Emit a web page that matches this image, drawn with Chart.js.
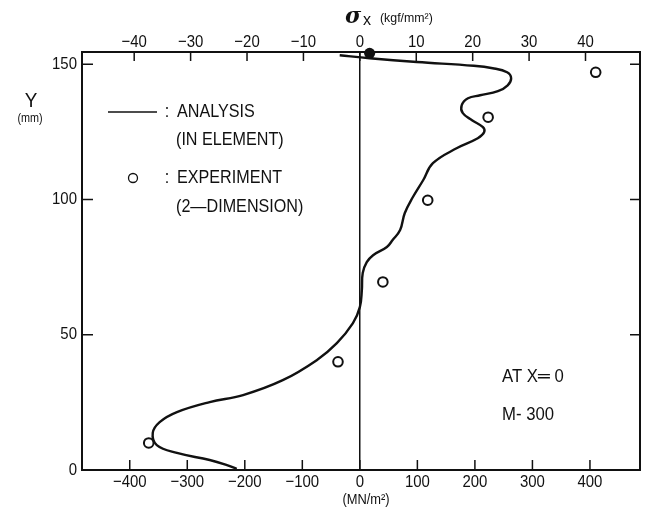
<!DOCTYPE html>
<html>
<head>
<meta charset="utf-8">
<script src="https://cdn.jsdelivr.net/npm/chart.js@4/dist/chart.umd.min.js"></script>
<style>
    body { margin: 0; background: #fff; }
</style>
</head>
<body>
<canvas id="stressChart" width="652" height="515"></canvas>
<script>
// analysis curve, read from bottom (Y = 0) to top
const analysisY = [0.4, 1.8, 3.7, 6.3, 9.2, 13.7, 17.7, 21.4, 25.1, 27.7, 33.2, 40.6, 46.9, 54.3, 60.2, 66.5, 72.8, 76.8, 79.4, 82.4, 85, 88.7, 94.9, 100.8, 107.1, 113.4, 119, 122.6, 124.8, 126.7, 129.3, 131.9, 134.8, 137.4, 138.5, 140, 142.2, 144.8, 147, 148.5, 149.4, 150.8, 152.2, 153.3];
const analysisStress = [-214, -231, -261, -318, -353, -360, -348, -318, -261, -203, -134, -75, -40, -12, 0, 3.5, 5, 12, 23, 47, 57, 70, 78, 92, 110, 127, 169, 205, 216, 214, 195, 179, 177, 188, 209, 240, 257, 263, 256, 231, 198, 99, 17, -35];

// experiment (2-dimension)
const expY = [10, 40, 69.5, 99.7, 130.4, 147];
const expStress = [-367, -38, 40, 118, 223, 410];

// surface value (filled dot)
const surfaceY = [154];
const surfaceStress = [17];

// tick labels
const mnTicks = [-400, -300, -200, -100, 0, 100, 200, 300, 400];
const kgfTicks = [-40, -30, -20, -10, 0, 10, 20, 30, 40];
const yTicks = [0, 50, 100, 150];

const xMin = -483, xMax = 487;
const yMin = 0, yMax = 154.5;
const KGF = 9.80665;

const ink = '#111';

function toPoints(xs, ys) {
    return xs.map((v, i) => ({ x: v, y: ys[i] }));
}

function minus(v) {
    return v < 0 ? '\u2212' + Math.abs(v) : String(v);
}

// draw text a bit narrower, like the typed labels of the original
function squashText(ctx, text, x, y, size, align, base, sx) {
    ctx.save();
    ctx.font = size + 'px "Liberation Sans", Arial, sans-serif';
    ctx.textAlign = align;
    ctx.textBaseline = base;
    ctx.translate(x, y);
    ctx.scale(sx, 1);
    ctx.fillText(text, 0, 0);
    ctx.restore();
}

const frame = {
    id: 'frame',
    afterDatasetsDraw(chart) {
        const ctx = chart.ctx;
        const area = chart.chartArea;
        const x = chart.scales.x;
        const x2 = chart.scales.x2;
        const y = chart.scales.y;

        ctx.save();
        ctx.strokeStyle = ink;
        ctx.fillStyle = ink;
        ctx.lineWidth = 1.5;

        // inward tick marks
        ctx.beginPath();
        for (let v of mnTicks) {
            const px = x.getPixelForValue(v);
            ctx.moveTo(px, area.bottom);
            ctx.lineTo(px, area.bottom - 10);
        }
        for (let v of kgfTicks) {
            const px = x2.getPixelForValue(v);
            ctx.moveTo(px, area.top);
            ctx.lineTo(px, area.top + 9);
        }
        for (let v of yTicks) {
            if (v === 0) continue;
            const py = y.getPixelForValue(v);
            ctx.moveTo(area.left, py);
            ctx.lineTo(area.left + 11, py);
            ctx.moveTo(area.right, py);
            ctx.lineTo(area.right - 10, py);
        }
        ctx.stroke();

        // tick labels
        for (let v of mnTicks) {
            squashText(ctx, minus(v), x.getPixelForValue(v), area.bottom + 12, 17, 'center', 'middle', 0.88);
        }
        for (let v of kgfTicks) {
            squashText(ctx, minus(v), x2.getPixelForValue(v), area.top - 10, 17, 'center', 'middle', 0.88);
        }
        for (let v of yTicks) {
            squashText(ctx, String(v), area.left - 5, y.getPixelForValue(v), 17, 'right', 'middle', 0.88);
        }

        // axis titles
        squashText(ctx, 'Y', 31, 101, 21, 'center', 'middle', 0.9);
        squashText(ctx, '(mm)', 30, 119, 12, 'center', 'middle', 0.9);
        ctx.save();
        ctx.font = 'italic bold 22px "DejaVu Serif", serif';
        ctx.textAlign = 'center';
        ctx.textBaseline = 'middle';
        ctx.fillText('\u03c3', 353, 17);
        ctx.restore();
        squashText(ctx, 'x', 367, 20, 17, 'center', 'middle', 0.95);
        squashText(ctx, '(kgf/mm\u00b2)', 380, 18, 13, 'left', 'middle', 0.95);
        squashText(ctx, '(MN/m\u00b2)', 366, 500, 14, 'center', 'middle', 0.92);

        // legend
        ctx.lineWidth = 1.3;
        ctx.beginPath();
        ctx.moveTo(108, 112);
        ctx.lineTo(157, 112);
        ctx.stroke();
        ctx.beginPath();
        ctx.arc(133, 178, 4.5, 0, Math.PI * 2);
        ctx.stroke();
        squashText(ctx, ':', 167, 112, 19, 'center', 'middle', 0.85);
        squashText(ctx, 'ANALYSIS', 177, 112, 19, 'left', 'middle', 0.85);
        squashText(ctx, '(IN ELEMENT)', 176, 140, 19, 'left', 'middle', 0.85);
        squashText(ctx, ':', 167, 178, 19, 'center', 'middle', 0.85);
        squashText(ctx, 'EXPERIMENT', 177, 178, 19, 'left', 'middle', 0.85);
        squashText(ctx, '(2\u2014DIMENSION)', 176, 207, 19, 'left', 'middle', 0.85);

        // notes
        squashText(ctx, 'AT X\u2550 0', 502, 377, 19, 'left', 'middle', 0.88);
        squashText(ctx, 'M- 300', 502, 415, 19, 'left', 'middle', 0.88);
        ctx.restore();
    }
};

const ctxChart = document.getElementById('stressChart').getContext('2d');
new Chart(ctxChart, {
    type: 'scatter',
    data: {
        datasets: [{
            label: 'ANALYSIS (IN ELEMENT)',
            data: toPoints(analysisStress, analysisY),
            showLine: true,
            tension: 0.4,
            borderColor: ink,
            borderWidth: 2.4,
            pointRadius: 0,
            fill: false,
            clip: false
        }, {
            label: 'EXPERIMENT (2-DIMENSION)',
            data: toPoints(expStress, expY),
            pointRadius: 4.8,
            pointBorderWidth: 2,
            pointBorderColor: ink,
            pointBackgroundColor: '#fff'
        }, {
            label: 'surface',
            data: toPoints(surfaceStress, surfaceY),
            pointRadius: 5.5,
            pointBorderWidth: 0,
            pointBackgroundColor: ink,
            clip: false
        }]
    },
    options: {
        responsive: false,
        devicePixelRatio: 1,
        animation: false,
        layout: {
            padding: { left: 82, right: 12, top: 52, bottom: 45 }
        },
        plugins: {
            legend: { display: false },
            tooltip: { enabled: false }
        },
        scales: {
            x: {
                type: 'linear',
                position: 'bottom',
                min: xMin,
                max: xMax,
                afterBuildTicks: (axis) => { axis.ticks = mnTicks.map(v => ({ value: v })); },
                ticks: { display: false },
                grid: {
                    drawTicks: false,
                    tickLength: 0,
                    lineWidth: 1.5,
                    color: (c) => (c.tick && c.tick.value === 0 ? ink : 'rgba(0,0,0,0)')
                },
                border: { display: true, color: ink, width: 2 }
            },
            x2: {
                type: 'linear',
                position: 'top',
                min: xMin / KGF,
                max: xMax / KGF,
                afterBuildTicks: (axis) => { axis.ticks = kgfTicks.map(v => ({ value: v })); },
                ticks: { display: false },
                grid: { display: false, drawTicks: false, tickLength: 0 },
                border: { display: true, color: ink, width: 2 }
            },
            y: {
                type: 'linear',
                position: 'left',
                min: yMin,
                max: yMax,
                afterBuildTicks: (axis) => { axis.ticks = yTicks.map(v => ({ value: v })); },
                ticks: { display: false },
                grid: { display: false, drawTicks: false, tickLength: 0 },
                border: { display: true, color: ink, width: 2 }
            },
            y2: {
                type: 'linear',
                position: 'right',
                min: yMin,
                max: yMax,
                ticks: { display: false },
                grid: { display: false, drawTicks: false, tickLength: 0 },
                border: { display: true, color: ink, width: 2 }
            }
        }
    },
    plugins: [frame]
});
</script>
</body>
</html>
